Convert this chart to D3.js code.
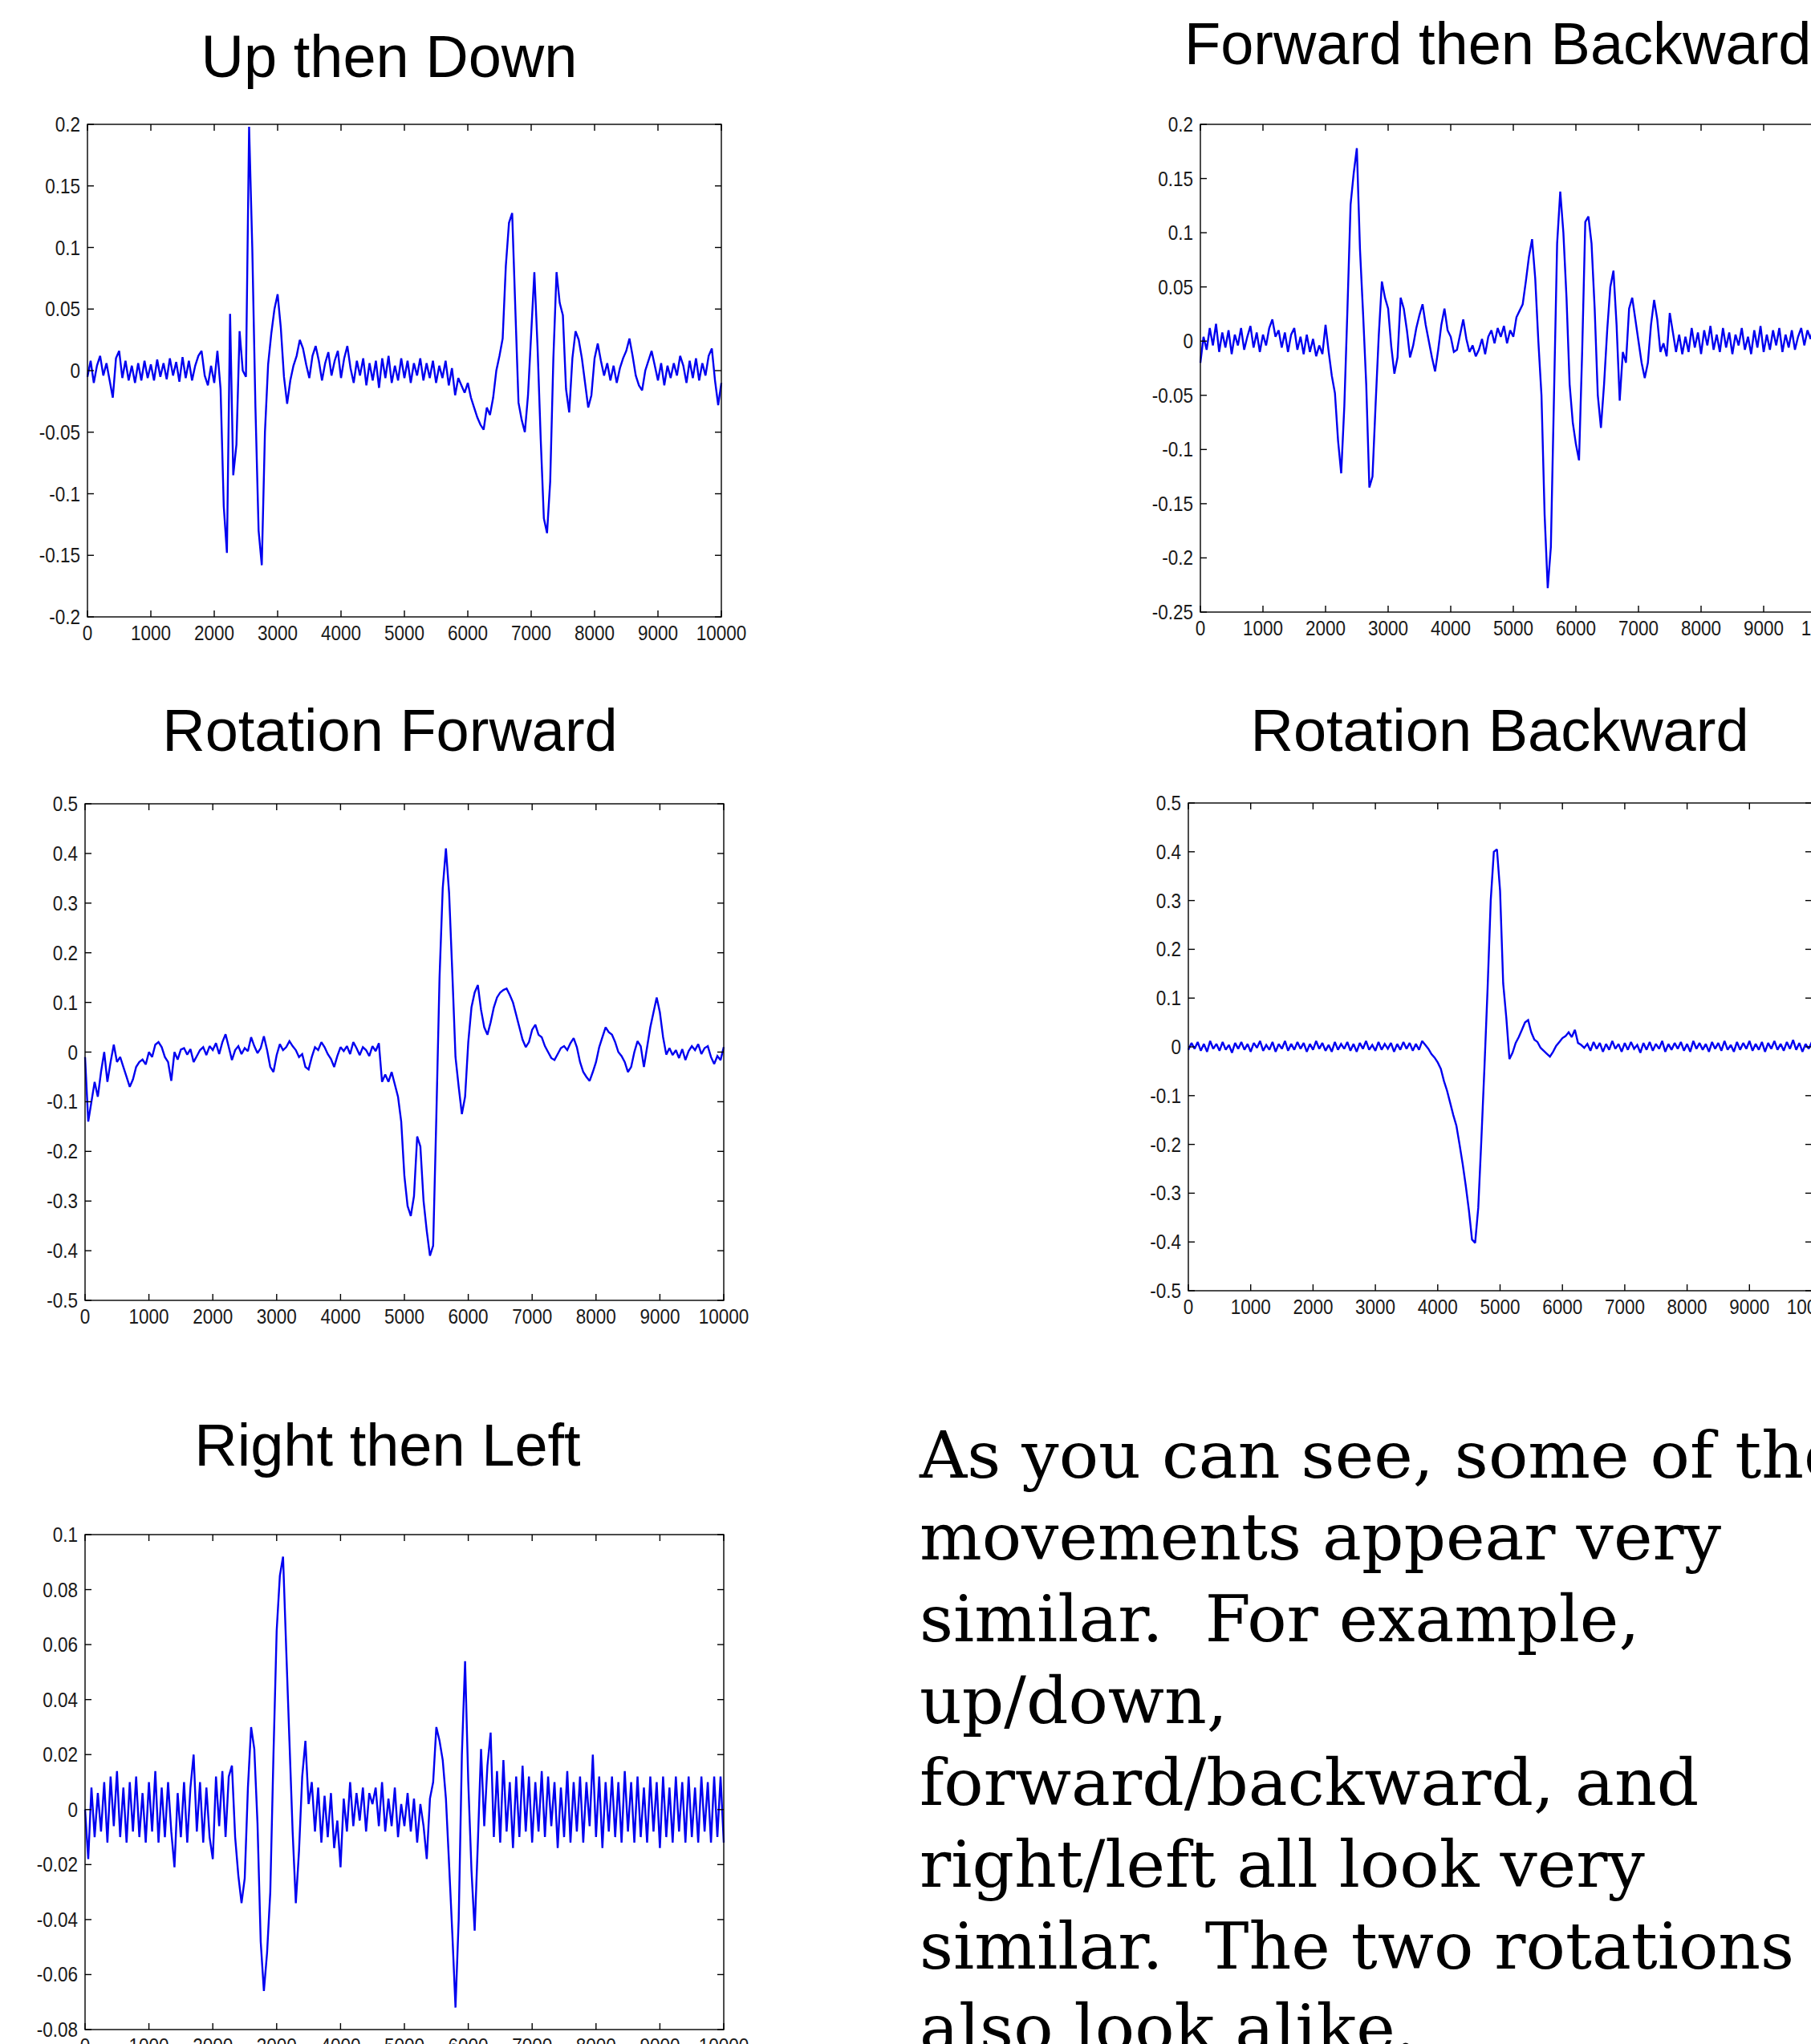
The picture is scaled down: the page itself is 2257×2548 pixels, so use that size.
<!DOCTYPE html>
<html>
<head>
<meta charset="utf-8">
<script src="https://cdn.jsdelivr.net/npm/d3@7"></script>
<style>
  html, body { margin: 0; padding: 0; background: #ffffff; }
  svg { display: block; }
</style>
</head>
<body>
<svg id="chart" width="2257" height="2548"></svg>
<script>
// ---------------- DATA (one sample every 50 units) ----------------
const xTicks = [0, 1000, 2000, 3000, 4000, 5000, 6000, 7000, 8000, 9000, 10000];

const upDownYTicks = [-0.2, -0.15, -0.1, -0.05, 0, 0.05, 0.1, 0.15, 0.2];
const fwdBackYTicks = [-0.25, -0.2, -0.15, -0.1, -0.05, 0, 0.05, 0.1, 0.15, 0.2];
const rotFwdYTicks = [-0.5, -0.4, -0.3, -0.2, -0.1, 0, 0.1, 0.2, 0.3, 0.4, 0.5];
const rotBackYTicks = [-0.5, -0.4, -0.3, -0.2, -0.1, 0, 0.1, 0.2, 0.3, 0.4, 0.5];
const rightLeftYTicks = [-0.08, -0.06, -0.04, -0.02, 0, 0.02, 0.04, 0.06, 0.08, 0.1];

const upDown = [
  -0.005, 0.008, -0.010, 0.004, 0.012, -0.004, 0.006, -0.008, -0.022, 0.010,
  0.016, -0.006, 0.008, -0.008, 0.004, -0.010, 0.006, -0.008, 0.008, -0.006,
  0.005, -0.008, 0.009, -0.005, 0.006, -0.007, 0.010, -0.004, 0.007, -0.009,
  0.011, -0.006, 0.008, -0.008, 0.004, 0.012, 0.016, -0.004, -0.012, 0.004,
  -0.010, 0.016, -0.015, -0.110, -0.148, 0.046, -0.085, -0.060, 0.032, 0.000,
  -0.005, 0.198, 0.100, -0.030, -0.130, -0.158, -0.050, 0.005, 0.030, 0.050,
  0.062, 0.035, -0.005, -0.027, -0.008, 0.004, 0.012, 0.025, 0.018, 0.005,
  -0.006, 0.012, 0.020, 0.008, -0.008, 0.006, 0.015, -0.004, 0.008, 0.016,
  -0.006, 0.010, 0.020, 0.002, -0.010, 0.008, -0.004, 0.010, -0.012, 0.006,
  -0.008, 0.008, -0.014, 0.010, -0.006, 0.012, -0.010, 0.004, -0.008, 0.010,
  -0.006, 0.008, -0.010, 0.006, -0.004, 0.010, -0.008, 0.006, -0.006, 0.008,
  -0.010, 0.004, -0.006, 0.008, -0.012, 0.002, -0.020, -0.006, -0.012, -0.018,
  -0.010, -0.022, -0.030, -0.038, -0.044, -0.048, -0.030, -0.036, -0.022, 0.000,
  0.012, 0.026, 0.085, 0.120, 0.128, 0.050, -0.026, -0.040, -0.050, -0.020,
  0.030, 0.080, 0.020, -0.055, -0.120, -0.132, -0.090, 0.010, 0.080, 0.055,
  0.045, -0.015, -0.034, 0.010, 0.032, 0.025, 0.010, -0.010, -0.030, -0.020,
  0.010, 0.022, 0.008, -0.004, 0.006, -0.008, 0.004, -0.010, 0.002, 0.010,
  0.016, 0.026, 0.012, -0.004, -0.012, -0.016, 0.000, 0.008, 0.016, 0.004,
  -0.008, 0.006, -0.012, 0.004, -0.006, 0.006, -0.004, 0.012, 0.004, -0.010,
  0.008, -0.006, 0.010, -0.008, 0.006, -0.004, 0.012, 0.018, -0.008, -0.028,
  -0.010
];

const fwdBack = [
  -0.020, 0.004, -0.008, 0.012, -0.004, 0.016, -0.010, 0.008, -0.006, 0.010,
  -0.012, 0.006, -0.004, 0.012, -0.008, 0.004, 0.014, -0.006, 0.008, -0.010,
  0.006, -0.004, 0.012, 0.020, 0.004, 0.010, -0.006, 0.008, -0.010, 0.006,
  0.012, -0.008, 0.004, -0.012, 0.006, -0.010, 0.002, -0.014, -0.004, -0.012,
  0.015, -0.010, -0.032, -0.048, -0.092, -0.122, -0.060, 0.030, 0.126, 0.155,
  0.178, 0.085, 0.025, -0.040, -0.135, -0.125, -0.058, 0.005, 0.055, 0.040,
  0.030, -0.005, -0.030, -0.015, 0.040, 0.030, 0.010, -0.015, -0.004, 0.012,
  0.024, 0.034, 0.015, 0.000, -0.015, -0.028, -0.008, 0.015, 0.030, 0.010,
  0.004, -0.010, -0.008, 0.006, 0.020, 0.002, -0.010, -0.004, -0.014, -0.008,
  0.002, -0.012, 0.004, 0.010, -0.002, 0.012, 0.004, 0.014, -0.002, 0.010,
  0.004, 0.022, 0.028, 0.034, 0.055, 0.078, 0.094, 0.058, 0.000, -0.050,
  -0.160, -0.228, -0.190, -0.050, 0.090, 0.138, 0.100, 0.040, -0.040, -0.075,
  -0.095, -0.110, -0.010, 0.110, 0.115, 0.090, 0.030, -0.050, -0.080, -0.040,
  0.010, 0.050, 0.065, 0.015, -0.055, -0.010, -0.020, 0.030, 0.040, 0.020,
  0.000, -0.020, -0.034, -0.020, 0.015, 0.038, 0.020, -0.010, -0.002, -0.014,
  0.026, 0.008, -0.010, 0.006, -0.012, 0.004, -0.010, 0.012, -0.006, 0.008,
  -0.012, 0.010, -0.004, 0.014, -0.008, 0.006, -0.010, 0.012, -0.006, 0.008,
  -0.012, 0.006, -0.004, 0.012, -0.008, 0.004, -0.012, 0.010, -0.006, 0.014,
  -0.010, 0.006, -0.008, 0.010, -0.004, 0.012, -0.010, 0.006, -0.006, 0.010,
  -0.008, 0.004, 0.012, -0.004, 0.010, 0.002, 0.014, -0.004, 0.010, -0.006,
  0.008
];

const rotFwd = [
  -0.010, -0.140, -0.100, -0.060, -0.090, -0.040, 0.000, -0.060, -0.020, 0.015,
  -0.020, -0.010, -0.030, -0.050, -0.070, -0.055, -0.030, -0.020, -0.015, -0.025,
  0.000, -0.010, 0.015, 0.020, 0.010, -0.010, -0.020, -0.058, 0.000, -0.015,
  0.005, 0.008, -0.005, 0.006, -0.020, -0.008, 0.004, 0.010, -0.006, 0.012,
  0.004, 0.018, -0.004, 0.020, 0.036, 0.010, -0.016, 0.004, 0.012, -0.004,
  0.008, 0.002, 0.030, 0.012, -0.002, 0.008, 0.032, 0.004, -0.030, -0.040,
  -0.006, 0.016, 0.004, 0.010, 0.022, 0.012, 0.004, -0.010, -0.004, -0.030,
  -0.035, -0.010, 0.010, 0.004, 0.020, 0.010, -0.004, -0.014, -0.030, -0.008,
  0.010, 0.002, 0.012, -0.004, 0.020, 0.008, -0.006, 0.010, 0.004, -0.008,
  0.012, 0.002, 0.018, -0.060, -0.045, -0.060, -0.040, -0.065, -0.090, -0.140,
  -0.250, -0.310, -0.330, -0.290, -0.170, -0.190, -0.300, -0.360, -0.410, -0.390,
  -0.130, 0.150, 0.330, 0.410, 0.320, 0.160, -0.010, -0.070, -0.125, -0.090,
  0.020, 0.090, 0.120, 0.135, 0.085, 0.050, 0.035, 0.060, 0.090, 0.110,
  0.120, 0.125, 0.128, 0.115, 0.100, 0.075, 0.050, 0.025, 0.010, 0.020,
  0.045, 0.055, 0.035, 0.030, 0.012, 0.000, -0.012, -0.016, -0.004, 0.008,
  0.012, 0.004, 0.018, 0.028, 0.010, -0.020, -0.040, -0.050, -0.058, -0.040,
  -0.020, 0.010, 0.030, 0.050, 0.040, 0.035, 0.020, 0.000, -0.008, -0.020,
  -0.040, -0.030, 0.000, 0.022, 0.012, -0.030, 0.010, 0.050, 0.080, 0.110,
  0.080, 0.030, -0.005, 0.008, -0.006, 0.004, -0.012, 0.006, -0.016, 0.002,
  0.012, 0.004, 0.016, -0.004, 0.008, 0.012, -0.010, -0.024, -0.008, -0.016,
  0.010
];

const rotBack = [
  -0.006, 0.008, -0.004, 0.010, -0.008, 0.006, -0.010, 0.012, -0.004, 0.006,
  -0.008, 0.010, -0.006, 0.004, -0.012, 0.008, -0.004, 0.010, -0.006, 0.006,
  -0.010, 0.008, -0.002, 0.012, -0.008, 0.004, -0.006, 0.010, -0.010, 0.006,
  -0.004, 0.012, -0.008, 0.006, -0.006, 0.010, -0.004, 0.008, -0.010, 0.006,
  -0.006, 0.012, -0.004, 0.008, -0.008, 0.004, -0.010, 0.010, -0.006, 0.006,
  -0.004, 0.010, -0.008, 0.006, -0.010, 0.008, -0.004, 0.012, -0.006, 0.004,
  -0.008, 0.010, -0.006, 0.006, -0.004, 0.008, -0.010, 0.006, -0.006, 0.010,
  -0.004, 0.008, -0.008, 0.006, -0.006, 0.012,
  0.004, -0.004, -0.015, -0.022, -0.032, -0.045, -0.070, -0.090, -0.115, -0.140,
  -0.162, -0.200, -0.240, -0.285, -0.335, -0.395, -0.402, -0.330, -0.190, -0.040,
  0.120, 0.300, 0.400, 0.405, 0.320, 0.130, 0.060, -0.025, -0.012, 0.008,
  0.020, 0.035, 0.050, 0.055, 0.030, 0.015, 0.010, -0.002, -0.008, -0.014,
  -0.020, -0.010, 0.002, 0.010, 0.018, 0.022, 0.030, 0.020, 0.035, 0.008,
  0.004, -0.002, 0.006,
  -0.008, 0.010, -0.004, 0.008, -0.010, 0.006, -0.006, 0.012, -0.004, 0.006,
  -0.010, 0.008, -0.006, 0.010, -0.004, 0.004, -0.012, 0.008, -0.006, 0.010,
  -0.008, 0.006, -0.004, 0.012, -0.010, 0.006, -0.006, 0.008, -0.004, 0.010,
  -0.008, 0.006, -0.010, 0.012, -0.004, 0.008, -0.006, 0.006, -0.010, 0.010,
  -0.004, 0.008, -0.008, 0.012, -0.006, 0.004, -0.010, 0.010, -0.006, 0.008,
  -0.004, 0.012, -0.008, 0.006, -0.006, 0.010, -0.010, 0.008, -0.004, 0.012,
  -0.006, 0.006, -0.008, 0.010, -0.004, 0.014, -0.006, 0.008, -0.010, 0.006,
  -0.004, 0.010
];

const rightLeft = [
  0.000, -0.018, 0.008, -0.010, 0.006, -0.008, 0.010, -0.012, 0.012, -0.006,
  0.014, -0.010, 0.008, -0.012, 0.010, -0.008, 0.012, -0.010, 0.006, -0.012,
  0.010, -0.008, 0.014, -0.012, 0.008, -0.010, 0.010, -0.008, -0.021, 0.006,
  -0.010, 0.010, -0.012, 0.008, 0.020, -0.008, 0.010, -0.012, 0.008, -0.010,
  -0.018, 0.012, -0.006, 0.014, -0.010, 0.012, 0.016, -0.010, -0.024, -0.034,
  -0.025, 0.008, 0.030, 0.022, -0.005, -0.048, -0.066, -0.052, -0.030, 0.020,
  0.065, 0.085, 0.092, 0.058, 0.025, -0.008, -0.034, -0.015, 0.012, 0.025,
  0.002, 0.010, -0.008, 0.008, -0.012, 0.005, -0.010, 0.006, -0.014, -0.004,
  -0.021, 0.004, -0.008, 0.010, -0.006, 0.006, -0.004, 0.008, -0.008, 0.006,
  0.002, 0.008, -0.006, 0.010, -0.008, 0.004, -0.006, 0.008, -0.010, 0.002,
  -0.006, 0.006, -0.008, 0.004, -0.012, 0.002, -0.006, -0.018, 0.004, 0.010,
  0.030, 0.025, 0.018, 0.004, -0.020, -0.045, -0.072, -0.040, 0.020, 0.054,
  0.010, -0.022, -0.044, -0.012, 0.022, -0.006, 0.016, 0.028, -0.010, 0.014,
  -0.012, 0.018, -0.008, 0.010, -0.014, 0.012, -0.010, 0.016, -0.008, 0.012,
  -0.012, 0.010, -0.008, 0.014, -0.010, 0.012, -0.006, 0.010, -0.014, 0.008,
  -0.010, 0.014, -0.012, 0.010, -0.008, 0.012, -0.012, 0.010, -0.006, 0.020,
  -0.010, 0.012, -0.014, 0.010, -0.008, 0.012, -0.010, 0.010, -0.012, 0.014,
  -0.008, 0.010, -0.012, 0.012, -0.010, 0.008, -0.012, 0.012, -0.008, 0.010,
  -0.014, 0.012, -0.010, 0.008, -0.012, 0.012, -0.008, 0.010, -0.012, 0.012,
  -0.010, 0.008, -0.012, 0.012, -0.008, 0.010, -0.012, 0.012, -0.010, 0.012,
  -0.012
];

const paragraph = [
  "As you can see, some of the",
  "movements appear very",
  "similar.  For example,",
  "up/down,",
  "forward/backward, and",
  "right/left all look very",
  "similar.  The two rotations",
  "also look alike."
];

// ---------------- LAYOUT ----------------
const panels = [
  { title: "Up then Down", values: upDown, yTicks: upDownYTicks,
    box: [109, 155, 899, 769], title_x: 485, title_y: 96, anchor: "middle" },
  { title: "Forward then Backward", values: fwdBack, yTicks: fwdBackYTicks,
    box: [1496, 155, 2276, 763], title_x: 1476, title_y: 80, anchor: "start" },
  { title: "Rotation Forward", values: rotFwd, yTicks: rotFwdYTicks,
    box: [106, 1002, 902, 1621], title_x: 486, title_y: 936, anchor: "middle" },
  { title: "Rotation Backward", values: rotBack, yTicks: rotBackYTicks,
    box: [1481, 1001, 2258, 1609], title_x: 1869, title_y: 936, anchor: "middle" },
  { title: "Right then Left", values: rightLeft, yTicks: rightLeftYTicks,
    box: [106, 1913, 902, 2530], title_x: 483, title_y: 1827, anchor: "middle" }
];

const svg = d3.select("#chart");
svg.append("rect").attr("width", 2257).attr("height", 2548).attr("fill", "#ffffff");

const TICK = 8;
const labelFont = "'Liberation Sans', Arial, Helvetica, sans-serif";

panels.forEach(p => {
  const [x0, y0, x1, y1] = p.box;
  const yDom = d3.extent(p.yTicks);
  const x = d3.scaleLinear().domain([0, 10000]).range([x0, x1]);
  const y = d3.scaleLinear().domain(yDom).range([y1, y0]);
  const g = svg.append("g");

  // title
  g.append("text")
    .attr("x", p.title_x).attr("y", p.title_y)
    .attr("text-anchor", p.anchor)
    .attr("font-family", labelFont)
    .attr("font-size", 74)
    .attr("fill", "#000")
    .text(p.title);

  // data line
  const n = p.values.length;
  const step = 10000 / (n - 1);
  const line = d3.line().x((d, i) => x(i * step)).y(d => y(d));
  g.append("path")
    .datum(p.values)
    .attr("d", line)
    .attr("fill", "none")
    .attr("stroke", "#0000f0")
    .attr("stroke-width", 2.4)
    .attr("stroke-linejoin", "miter")
    .attr("stroke-miterlimit", 2);

  // box
  g.append("rect")
    .attr("x", x0).attr("y", y0)
    .attr("width", x1 - x0).attr("height", y1 - y0)
    .attr("fill", "none").attr("stroke", "#000").attr("stroke-width", 1.4);

  // x ticks (bottom and top, inward)
  xTicks.forEach(v => {
    const px = x(v);
    g.append("line").attr("x1", px).attr("x2", px).attr("y1", y1).attr("y2", y1 - TICK)
      .attr("stroke", "#000").attr("stroke-width", 1.4);
    g.append("line").attr("x1", px).attr("x2", px).attr("y1", y0).attr("y2", y0 + TICK)
      .attr("stroke", "#000").attr("stroke-width", 1.4);
    g.append("text")
      .attr("transform", `translate(${px},${y1 + 29}) scale(0.9,1)`)
      .attr("text-anchor", "middle")
      .attr("font-family", labelFont)
      .attr("font-size", 25)
      .attr("fill", "#1a1a1a")
      .text(String(v));
  });

  // y ticks (left and right, inward)
  p.yTicks.forEach(v => {
    const py = y(v);
    g.append("line").attr("x1", x0).attr("x2", x0 + TICK).attr("y1", py).attr("y2", py)
      .attr("stroke", "#000").attr("stroke-width", 1.4);
    g.append("line").attr("x1", x1).attr("x2", x1 - TICK).attr("y1", py).attr("y2", py)
      .attr("stroke", "#000").attr("stroke-width", 1.4);
    g.append("text")
      .attr("transform", `translate(${x0 - 9},${py + 9}) scale(0.9,1)`)
      .attr("text-anchor", "end")
      .attr("font-family", labelFont)
      .attr("font-size", 25)
      .attr("fill", "#1a1a1a")
      .text(String(v));
  });
});

// ---------------- PARAGRAPH ----------------
const paraX = 1146, paraY0 = 1842, paraDY = 102;
const para = svg.append("g");
const paraTexts = paragraph.map((t, i) =>
  para.append("text")
    .attr("x", 0).attr("y", paraY0 + i * paraDY)
    .attr("font-family", "'DejaVu Serif', 'Century Schoolbook', serif")
    .attr("font-size", 80)
    .attr("fill", "#000")
    .style("white-space", "pre")
    .text(t)
);
// fit horizontal width of the serif face to the reference lines
const targetW = { 1: 983, 4: 983, 6: 1090, 2: 902 };
let sumM = 0, sumT = 0;
Object.keys(targetW).forEach(k => {
  sumM += paraTexts[k].node().getComputedTextLength();
  sumT += targetW[k];
});
const sx = sumM > 0 ? sumT / sumM : 1;
para.attr("transform", `translate(${paraX},0) scale(${sx},1)`);
</script>
</body>
</html>
